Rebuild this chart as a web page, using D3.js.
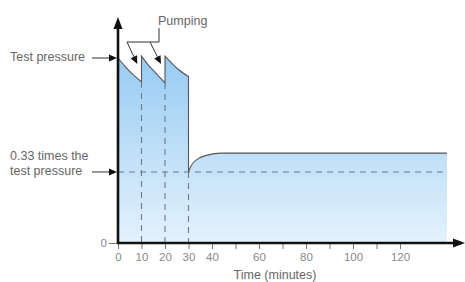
<!DOCTYPE html>
<html>
<head>
<meta charset="utf-8">
<script src="https://cdn.jsdelivr.net/npm/d3@7/dist/d3.min.js"></script>
<style>
  body { margin: 0; background: #fff; }
  text { font-family: "Liberation Sans", Arial, sans-serif; }
</style>
</head>
<body>
<div id="chart"></div>
<script>
// pressure as a fraction of the test pressure, time in minutes
const pump1 = [[0, 1.0], [3, 0.955], [6, 0.915], [10, 0.87]];
const pump2 = [[10, 1.01], [13, 0.96], [16, 0.92], [20, 0.865]];
const pump3 = [[20, 1.01], [23, 0.97], [26, 0.935], [30, 0.9]];
const recovery = [[30, 0.384], [31, 0.415], [34, 0.455], [38, 0.475], [44, 0.486], [140, 0.486]];
const refLevel = 0.384;       // "0.33 times the test pressure" line
const testLevel = 1.0;
const pumpTimes = [10, 20, 30];
const xTicks = [0, 10, 20, 30, 40, 50, 60, 70, 80, 90, 100, 110, 120];
const xLabels = [0, 10, 20, 30, 40, 60, 80, 100, 120];

const width = 465, height = 282;
const margin = {left: 118, right: 18, top: 17, bottom: 39};

const svg = d3.select('#chart').append('svg')
  .attr('width', width).attr('height', height);

const x = d3.scaleLinear().domain([0, 140]).range([margin.left, margin.left + 329]);
const y = d3.scaleLinear().domain([0, 1]).range([243, 58]);

// gradient fill
const defs = svg.append('defs');
const grad = defs.append('linearGradient').attr('id', 'fill')
  .attr('gradientUnits', 'userSpaceOnUse')
  .attr('x1', 0).attr('x2', 0).attr('y1', y(1.01)).attr('y2', y(0));
grad.append('stop').attr('offset', 0).attr('stop-color', '#98cbf3');
grad.append('stop').attr('offset', 1).attr('stop-color', '#e4f2fc');

const line = d3.line().x(d => x(d[0])).y(d => y(d[1])).curve(d3.curveMonotoneX);
const segs = [pump1, pump2, pump3, recovery];
// join the segments into one outline (vertical jumps between them)
const outline = segs.map((s, i) => {
  const p = line(s);
  return i === 0 ? p : 'L' + p.slice(1);
}).join('');

svg.append('path')
  .attr('d', outline + `L${x(140)},${y(0)}L${x(0)},${y(0)}Z`)
  .attr('fill', 'url(#fill)');

// outline of the pressure curve
svg.append('path')
  .attr('d', outline)
  .attr('fill', 'none')
  .attr('stroke', '#555')
  .attr('stroke-width', 1.1);

// dashed guide lines
const dash = svg.append('g')
  .attr('stroke', '#6a7a88')
  .attr('stroke-width', 1.1)
  .attr('stroke-dasharray', '6,5');
dash.append('line')
  .attr('x1', x(0)).attr('x2', x(140))
  .attr('y1', y(refLevel)).attr('y2', y(refLevel));
const ends = [pump1[pump1.length - 1][1], pump2[pump2.length - 1][1], refLevel];
pumpTimes.forEach((t, i) => {
  dash.append('line')
    .attr('x1', x(t)).attr('x2', x(t))
    .attr('y1', y(ends[i])).attr('y2', y(0));
});

// x axis ticks and labels
const xAxis = svg.append('g')
  .attr('transform', `translate(0,${y(0)})`)
  .call(d3.axisBottom(x).tickValues(xTicks).tickSize(6).tickPadding(4)
    .tickFormat(d => xLabels.includes(d) ? d : ''));
xAxis.select('.domain').remove();
xAxis.selectAll('line').attr('stroke', '#777');
xAxis.selectAll('text').attr('fill', '#888').style('font-size', '11.5px')
  .style('font-family', '"Liberation Sans", Arial, sans-serif');

const yAxis = svg.append('g')
  .attr('transform', `translate(${x(0)},0)`)
  .call(d3.axisLeft(y).tickValues([0]).tickFormat(d3.format('d')).tickSize(9).tickPadding(2));
yAxis.select('.domain').remove();
yAxis.selectAll('line').attr('stroke', '#777');
yAxis.selectAll('text').attr('fill', '#888').style('font-size', '11.5px')
  .style('font-family', '"Liberation Sans", Arial, sans-serif');

// main axes with arrowheads
svg.append('line')
  .attr('x1', x(0) - 1).attr('x2', 458)
  .attr('y1', y(0)).attr('y2', y(0))
  .attr('stroke', '#111').attr('stroke-width', 2.6);
svg.append('path')
  .attr('d', `M465,${y(0)}L453,${y(0) - 4.5}L453,${y(0) + 4.5}Z`)
  .attr('fill', '#111');
svg.append('line')
  .attr('x1', x(0)).attr('x2', x(0))
  .attr('y1', y(0) + 1).attr('y2', 26)
  .attr('stroke', '#111').attr('stroke-width', 2.6);
svg.append('path')
  .attr('d', `M${x(0)},17L${x(0) - 4.5},29L${x(0) + 4.5},29Z`)
  .attr('fill', '#111');

// annotation arrows
function arrow(x1, y1, x2, y2) {
  const a = Math.atan2(y2 - y1, x2 - x1);
  const len = 8, w = 3.5;
  const bx = x2 - len * Math.cos(a), by = y2 - len * Math.sin(a);
  svg.append('line')
    .attr('x1', x1).attr('y1', y1).attr('x2', bx).attr('y2', by)
    .attr('stroke', '#333').attr('stroke-width', 1);
  svg.append('path')
    .attr('d', `M${x2},${y2}L${bx - w * Math.sin(a)},${by + w * Math.cos(a)}L${bx + w * Math.sin(a)},${by - w * Math.cos(a)}Z`)
    .attr('fill', '#111');
}

const labelStyle = s => s.attr('fill', '#666').style('font-size', '12.5px');

svg.append('text').attr('x', 10).attr('y', y(testLevel) + 3)
  .text('Test pressure').call(labelStyle);
arrow(92, y(testLevel), x(0) - 1, y(testLevel));

svg.append('text').attr('x', 10).attr('y', y(refLevel) - 12)
  .text('0.33 times the').call(labelStyle);
svg.append('text').attr('x', 10).attr('y', y(refLevel) + 3)
  .text('test pressure').call(labelStyle);
arrow(92, y(refLevel), x(0) - 1, y(refLevel));

// pumping callout
svg.append('text').attr('x', 158).attr('y', 25)
  .text('Pumping').call(labelStyle);
svg.append('path')
  .attr('d', 'M159,28L159,42L127,42')
  .attr('fill', 'none').attr('stroke', '#333').attr('stroke-width', 1);
arrow(127, 42, x(8.2), 64);
arrow(150, 42, x(18.3), 64);

svg.append('text').attr('x', 275).attr('y', 279)
  .attr('text-anchor', 'middle')
  .text('Time (minutes)').call(labelStyle);
</script>
</body>
</html>
